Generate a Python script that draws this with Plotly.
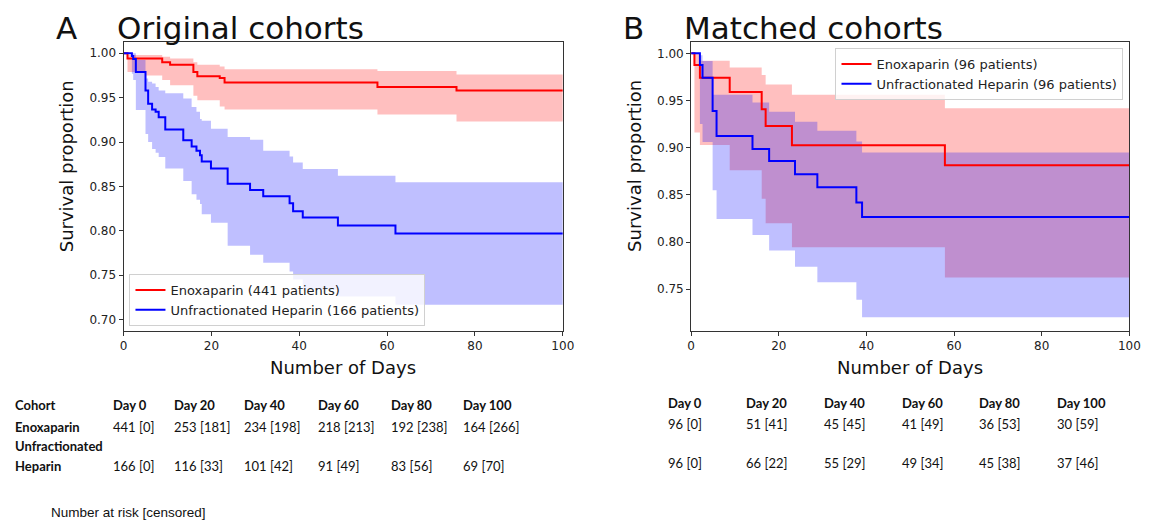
import plotly.graph_objects as go

# ---------------- data ----------------
# Panel A: original cohorts (Kaplan-Meier steps)
a_enox_t = [0, 0.9, 5.0, 8.8, 10.6, 15.9, 16.8, 21.9, 23.0, 57.8, 75.8, 100]
a_enox_s = [1.0, 0.994, 0.994, 0.990, 0.987, 0.979, 0.974, 0.972, 0.967, 0.962, 0.958, 0.958]
a_enox_hi = [1.0, 0.998, 0.998, 0.996, 0.994, 0.990, 0.987, 0.985, 0.982, 0.980, 0.976, 0.976]
a_enox_lo = [1.0, 0.979, 0.975, 0.970, 0.964, 0.952, 0.947, 0.940, 0.9365, 0.931, 0.923, 0.923]

a_ufh_t = [0, 1.9, 2.2, 2.8, 5.0, 5.6, 6.5, 7.3, 8.0, 9.5, 13.6, 15.5, 16.6, 17.4, 17.8,
           19.9, 23.7, 28.8, 31.8, 37.8, 38.6, 40.8, 48.8, 61.9, 100]
a_ufh_s = [1.0, 0.997, 0.9936, 0.979, 0.958, 0.943, 0.9365, 0.934, 0.928, 0.914, 0.902, 0.895,
           0.890, 0.885, 0.878, 0.870, 0.853, 0.846, 0.839, 0.831, 0.822, 0.815, 0.806, 0.797, 0.797]
a_ufh_hi = [1.0, 1.0, 1.0, 0.9924, 0.9717, 0.968, 0.966, 0.962, 0.958, 0.955, 0.949, 0.9395,
            0.934, 0.926, 0.924, 0.915, 0.9055, 0.9025, 0.890, 0.8836, 0.877, 0.8696, 0.862, 0.8545, 0.8545]
a_ufh_lo = [1.0, 0.977, 0.970, 0.936, 0.909, 0.900, 0.892, 0.888, 0.883, 0.870, 0.856, 0.841,
            0.835, 0.830, 0.8186, 0.809, 0.783, 0.773, 0.764, 0.754, 0.745, 0.7335, 0.726, 0.7165, 0.7165]

# Panel B: matched cohorts
b_enox_t = [0, 0.75, 2.0, 8.8, 16.1, 17.0, 23.0, 57.9, 100]
b_enox_s = [1.0, 0.9876, 0.974, 0.959, 0.9407, 0.923, 0.9026, 0.8814, 0.8814]
b_enox_hi = [1.0, 1.0, 0.9922, 0.985, 0.977, 0.967, 0.956, 0.9418, 0.9418]
b_enox_lo = [1.0, 0.916, 0.903, 0.876, 0.846, 0.820, 0.7946, 0.7624, 0.7624]

b_ufh_t = [0, 2.0, 2.6, 4.9, 5.8, 14.0, 17.8, 23.7, 28.8, 37.7, 39.0, 100]
b_ufh_s = [1.0, 0.9876, 0.974, 0.939, 0.9125, 0.8987, 0.886, 0.872, 0.858, 0.842, 0.8267, 0.8267]
b_ufh_hi = [1.0, 0.998, 0.992, 0.956, 0.956, 0.948, 0.938, 0.9276, 0.918, 0.9065, 0.895, 0.895]
b_ufh_lo = [1.0, 0.925, 0.906, 0.855, 0.8245, 0.8076, 0.791, 0.774, 0.7575, 0.739, 0.7204, 0.7204]

# Number-at-risk tables
table_days = ["Day 0", "Day 20", "Day 40", "Day 60", "Day 80", "Day 100"]
a_enox_risk = [441, 253, 234, 218, 192, 164]
a_enox_cens = [0, 181, 198, 213, 238, 266]
a_ufh_risk = [166, 116, 101, 91, 83, 69]
a_ufh_cens = [0, 33, 42, 49, 56, 70]
b_enox_risk = [96, 51, 45, 41, 36, 30]
b_enox_cens = [0, 41, 45, 49, 53, 59]
b_ufh_risk = [96, 66, 55, 49, 45, 37]
b_ufh_cens = [0, 22, 29, 34, 38, 46]

legend_a = ["Enoxaparin (441 patients)", "Unfractionated Heparin (166 patients)"]
legend_b = ["Enoxaparin (96 patients)", "Unfractionated Heparin (96 patients)"]

# ---------------- figure ----------------
OFF = 8  # page body margin
W, H = 1172 - OFF, 524 - OFF
RED, BLUE = "#ff0000", "#0000ff"
RED_F, BLUE_F = "rgba(255,0,0,0.25)", "rgba(0,0,255,0.25)"
FONT = "DejaVu Sans"

fig = go.Figure()


def add_band(t, lo, hi, fill, xa, ya):
    fig.add_trace(go.Scatter(x=t, y=lo, mode="lines", line=dict(width=0, shape="hv"),
                             showlegend=False, hoverinfo="skip", xaxis=xa, yaxis=ya))
    fig.add_trace(go.Scatter(x=t, y=hi, mode="lines", line=dict(width=0, shape="hv"),
                             fill="tonexty", fillcolor=fill, showlegend=False,
                             hoverinfo="skip", xaxis=xa, yaxis=ya))


add_band(a_enox_t, a_enox_lo, a_enox_hi, RED_F, "x", "y")
add_band(a_ufh_t, a_ufh_lo, a_ufh_hi, BLUE_F, "x", "y")
add_band(b_enox_t, b_enox_lo, b_enox_hi, RED_F, "x2", "y2")
add_band(b_ufh_t, b_ufh_lo, b_ufh_hi, BLUE_F, "x2", "y2")

for t, s, c, n, xa, ya, lg in [
    (a_enox_t, a_enox_s, RED, legend_a[0], "x", "y", "legend"),
    (a_ufh_t, a_ufh_s, BLUE, legend_a[1], "x", "y", "legend"),
    (b_enox_t, b_enox_s, RED, legend_b[0], "x2", "y2", "legend2"),
    (b_ufh_t, b_ufh_s, BLUE, legend_b[1], "x2", "y2", "legend2"),
]:
    fig.add_trace(go.Scatter(x=t, y=s, mode="lines", name=n, line=dict(color=c, width=2, shape="hv"),
                             xaxis=xa, yaxis=ya, legend=lg))


def px_x(p):
    return (p - OFF) / W


def px_y(p):
    return 1 - (p - OFF) / H


axis_common = dict(showline=True, linecolor="#333333", linewidth=1, mirror=True,
                   ticks="outside", ticklen=4, tickcolor="#333333", showgrid=False,
                   zeroline=False, tickfont=dict(family=FONT, size=12, color="#222222"))

ydom = [px_y(331), px_y(42)]
fig.update_layout(
    width=W, height=H, margin=dict(l=0, r=0, t=0, b=0),
    paper_bgcolor="white", plot_bgcolor="white",
    font=dict(family=FONT, color="#222222"),
    xaxis=dict(domain=[px_x(121), px_x(566)], range=[0, 100], tickvals=[0, 20, 40, 60, 80, 100],
               anchor="y", **axis_common),
    yaxis=dict(domain=ydom, range=[0.687, 1.0127], tickvals=[0.70, 0.75, 0.80, 0.85, 0.90, 0.95, 1.00],
               tickformat=".2f", anchor="x", **axis_common),
    xaxis2=dict(domain=[px_x(696), px_x(1140)], range=[0, 100], tickvals=[0, 20, 40, 60, 80, 100],
                anchor="y2", **axis_common),
    yaxis2=dict(domain=ydom, range=[0.7058, 1.012], tickvals=[0.75, 0.80, 0.85, 0.90, 0.95, 1.00],
                tickformat=".2f", anchor="x2", **axis_common),
    legend=dict(x=px_x(127), y=px_y(326), xanchor="left", yanchor="bottom", traceorder="normal",
                bgcolor="rgba(255,255,255,0.8)", bordercolor="#d0d0d0", borderwidth=1,
                font=dict(family=FONT, size=13, color="#222222"), tracegroupgap=0),
    legend2=dict(x=px_x(1134), y=px_y(48), xanchor="right", yanchor="top", traceorder="normal",
                 bgcolor="rgba(255,255,255,0.8)", bordercolor="#d0d0d0", borderwidth=1,
                 font=dict(family=FONT, size=13, color="#222222"), tracegroupgap=0),
)

ann = []


def text(x, y, s, size, family=FONT, bold=False, xanchor="left", yanchor="middle", angle=0,
         color="#111111"):
    ann.append(dict(x=px_x(x), y=px_y(y), xref="paper", yref="paper", text=f"<b>{s}</b>" if bold else s,
                    showarrow=False, xanchor=xanchor, yanchor=yanchor, textangle=angle,
                    font=dict(family=family, size=size, color=color)))


# panel titles
text(51, OFF, "A", 31, yanchor="top")
text(112, OFF, "Original cohorts", 31, yanchor="top")
text(625, OFF, "B", 31, yanchor="top")
text(687, OFF, "Matched cohorts", 31, yanchor="top")

# axis titles
text((121 + 566) / 2, 367, "Number of Days", 18, xanchor="center")
text((696 + 1140) / 2, 367, "Number of Days", 18, xanchor="center")
text(63, 166, "Survival proportion", 18, xanchor="center", angle=-90)
text(638, 166, "Survival proportion", 18, xanchor="center", angle=-90)

# number at risk tables
TF = "Lato"
TS = 13
cols_a = [108, 170, 241, 316, 390, 463]
cols_b = [671, 750, 829, 908, 986, 1065]
text(9, 405, "Cohort", TS, TF, bold=True)
text(9, 427, "Enoxaparin", TS, TF, bold=True)
text(9, 446, "Unfractionated", TS, TF, bold=True)
text(9, 466, "Heparin", TS, TF, bold=True)
for i, d in enumerate(table_days):
    text(cols_a[i], 405, d, TS, TF, bold=True)
    text(cols_a[i], 427, f"{a_enox_risk[i]} [{a_enox_cens[i]}]", TS, TF)
    text(cols_a[i], 466, f"{a_ufh_risk[i]} [{a_ufh_cens[i]}]", TS, TF)
    text(cols_b[i], 403, d, TS, TF, bold=True)
    text(cols_b[i], 424, f"{b_enox_risk[i]} [{b_enox_cens[i]}]", TS, TF)
    text(cols_b[i], 463, f"{b_ufh_risk[i]} [{b_ufh_cens[i]}]", TS, TF)
text(45, 512, "Number at risk [censored]", 13.5, "Liberation Sans")

fig.update_layout(annotations=ann)
fig.write_html("out.html")
